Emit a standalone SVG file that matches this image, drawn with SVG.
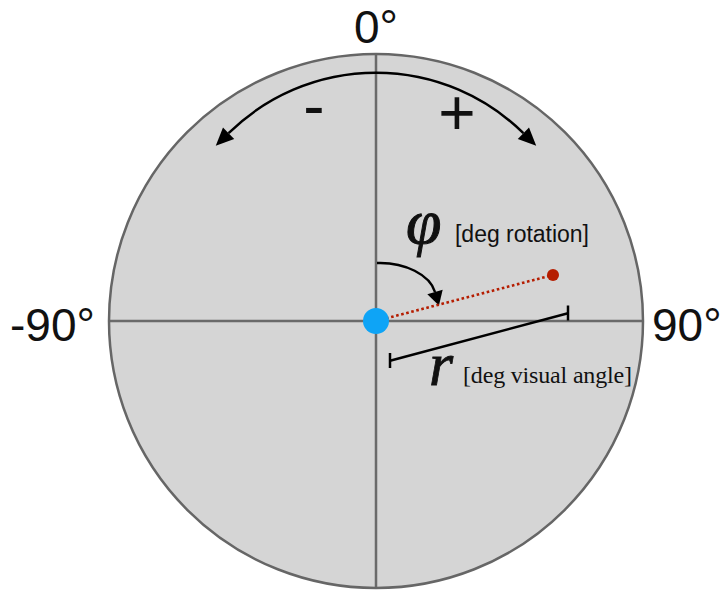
<svg xmlns="http://www.w3.org/2000/svg" width="726" height="591" viewBox="0 0 726 591">
  <style>
    .axis { stroke: #6a6a6a; stroke-width: 2.5; fill: none; }
    .sans { font-family: "Liberation Sans", Arial, Helvetica, sans-serif; fill: #111; }
    .serif { font-family: "Liberation Serif", "Times New Roman", serif; fill: #111; }
    .blk { stroke: #000; stroke-width: 2.5; fill: none; }
  </style>
  <defs>
    <marker id="arrowBig" markerUnits="userSpaceOnUse" markerWidth="20" markerHeight="20" viewBox="0 -10 20 20" refX="0" refY="0" orient="auto-start-reverse" overflow="visible">
      <path d="M0,-8 L18,0 L0,8 z" fill="#000"/>
    </marker>
    <marker id="arrowPhi" markerUnits="userSpaceOnUse" markerWidth="20" markerHeight="20" viewBox="0 -10 20 20" refX="0" refY="0" orient="auto" overflow="visible">
      <path d="M0,-8 L14,0 L0,8 z" fill="#000"/>
    </marker>
  </defs>

  <g id="field">
    <circle cx="376" cy="321" r="267" fill="#d5d5d5"/>
    <line class="axis" x1="376" y1="54" x2="376" y2="588"/>
    <line class="axis" x1="109" y1="321" x2="643" y2="321"/>
    <circle cx="376" cy="321" r="267" fill="none" stroke="#666" stroke-width="2.5"/>
  </g>

  <g id="axis-labels">
    <text class="sans" x="376" y="43" font-size="46" text-anchor="middle">0°</text>
    <text class="sans" x="10" y="341" font-size="46">-90°</text>
    <text class="sans" x="652" y="341" font-size="46">90°</text>
  </g>

  <g id="connectors">
    <path class="blk" d="M228.6,133.2 A210,210 0 0 1 523.4,133.2" marker-start="url(#arrowBig)" marker-end="url(#arrowBig)"/>
    <path class="blk" d="M377,263 C405,262 430,275 435,292" marker-end="url(#arrowPhi)"/>
    <line x1="376" y1="321" x2="553" y2="275" stroke="#b51d00" stroke-width="2.6" stroke-dasharray="2.6 2.6"/>
    <g id="r-bar">
      <line class="blk" x1="390" y1="360.7" x2="568" y2="313.3"/>
      <line class="blk" x1="390" y1="353" x2="390" y2="368"/>
      <line class="blk" x1="568" y1="305.5" x2="568" y2="320.5"/>
    </g>
  </g>

  <g id="sign-labels">
    <text class="sans" x="314" y="128" font-size="64" text-anchor="middle">-</text>
    <text class="sans" x="457" y="135" font-size="64" text-anchor="middle">+</text>
  </g>

  <g id="origin">
    <circle cx="376" cy="321" r="13" fill="#0ea4f6"/>
  </g>
  <g id="target">
    <circle cx="553" cy="275" r="6" fill="#b51d00"/>
  </g>

  <g id="phi-label">
    <text class="serif" x="406" y="243" font-size="64" font-style="italic" stroke="#111" stroke-width="1">φ</text>
    <text class="sans" x="455" y="242" font-size="23" textLength="134" fill="#333">[deg rotation]</text>
  </g>
  <g id="r-label">
    <text class="serif" x="429" y="385" font-size="62" font-style="italic" stroke="#111" stroke-width="0.8">r</text>
    <text class="serif" x="463" y="383" font-size="24" textLength="169">[deg visual angle]</text>
  </g>
</svg>
